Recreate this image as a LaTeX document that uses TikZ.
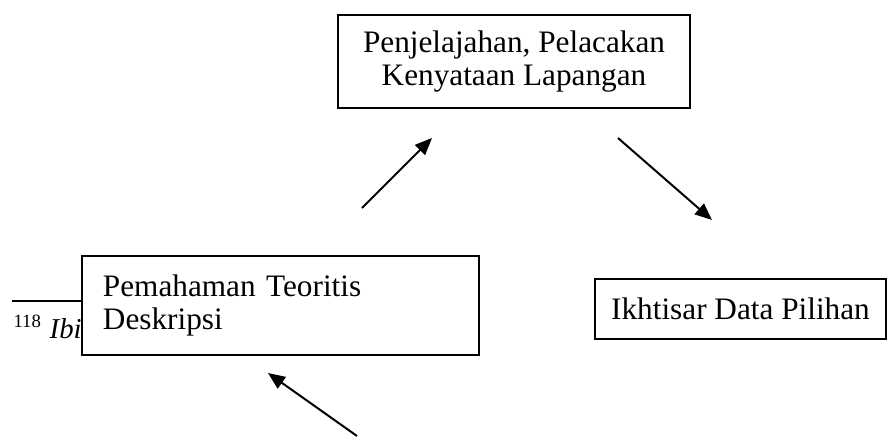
\documentclass[tikz,border=0pt]{standalone}
\usepackage{fontspec}
\setmainfont{Liberation Serif}
\usepackage{tikz}
\usetikzlibrary{arrows.meta,positioning,calc}

\begin{document}
\begin{tikzpicture}[
    x=0.4pt, y=-0.4pt,
    font=\fontsize{12.5}{13.2}\selectfont,
    box/.style={
        draw=black,
        line width=1pt,
        fill=white,
        inner sep=0pt,
        align=center
    },
    arr/.style={-{Triangle[length=6.8pt,width=5.6pt]}, line width=0.8pt},
    foot/.style={font=\fontsize{11.5}{13}\selectfont, anchor=base west, inner sep=0pt}
]
\useasboundingbox (0,0) rectangle (888,436);

% footnote behind the left box
\coordinate (rulea) at (12,301);
\coordinate (ruleb) at (200,301);
\draw[line width=0.8pt] (rulea) -- (ruleb);
\node[foot] (fnote) at (13,338)
{\raisebox{4.4pt}{\fontsize{7.5}{9}\selectfont 118}\hspace{3.5pt}\textit{Ibid.}};

\node[box, minimum width=140.8pt, minimum height=37.2pt] (lapangan) at (514,61.5)
{Penjelajahan, Pelacakan\\Kenyataan Lapangan};

\node[box, align=left, text width=142pt, inner xsep=8.4pt,
      minimum height=39.6pt] (teoritis) at (280.5,305.5)
{Pemahaman Teoritis\\Deskripsi};

\node[box, minimum width=116.4pt, minimum height=24pt] (ikhtisar) at (740.5,309)
{Ikhtisar Data Pilihan};

% arrows
\coordinate (a1s) at (362,208);
\coordinate (a1e) at (432,138);
\coordinate (a2s) at (618,138);
\coordinate (a2e) at (712,220);
\coordinate (a3s) at (357,436);
\coordinate (a3e) at (268,373);

\draw[arr] (a1s) -- (a1e);
\draw[arr] (a2s) -- (a2e);
\draw[arr] (a3s) -- (a3e);

\end{tikzpicture}
\end{document}
